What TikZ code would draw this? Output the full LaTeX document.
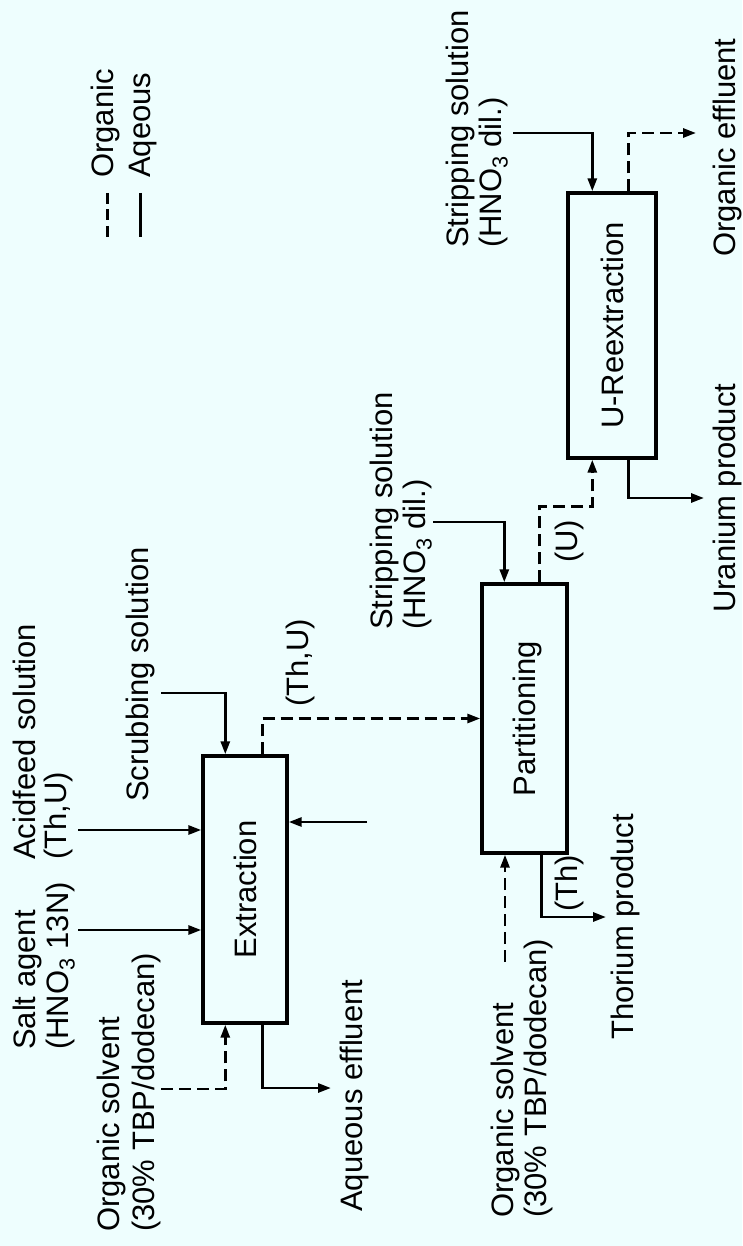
\documentclass[tikz,border=0pt]{standalone}
\usepackage{fontspec}
\setmainfont{Liberation Sans}
\usepackage{graphicx}
\usetikzlibrary{arrows.meta,calc}
\definecolor{bgc}{RGB}{238,254,254}
\newcommand{\rtxt}[1]{\rotatebox{90}{\raisebox{0pt}[\height][0pt]{#1}}}
\begin{document}
\begin{tikzpicture}[x=1pt,y=-1pt,
  lbl/.style={rotate=90,anchor=base west,inner sep=0pt,font=\fontsize{31pt}{33pt}\selectfont},
  unit/.style={draw,line width=3.4pt,inner sep=0pt,font=\fontsize{31pt}{33pt}\selectfont},
  aq/.style={line width=2.8pt,-{Triangle[length=13pt,width=9pt]}},
  org/.style={aq,dash pattern=on 12pt off 6pt},
  legline/.style={line width=3pt}]
\fill[bgc] (0,0) rectangle (742,1246);
\useasboundingbox (0,0) rectangle (742,1246);

% process units
\node[unit,minimum width=84pt,minimum height=267pt] (ext) at (245,889.5) {\rtxt{Extraction}};
\node[unit,minimum width=85pt,minimum height=269pt] (part) at (524.5,718.5) {\rtxt{Partitioning}};
\node[unit,minimum width=88pt,minimum height=265pt] (ure) at (612,325.5) {\rtxt{U-Reextraction}};

% labels
\node[lbl] (salt1) at (35,1050) {Salt agent};
\node[lbl] (salt2) at (68,1050) {(HNO\textsubscript{3} 13N)};
\node[lbl] (acid1) at (35,860) {Acidfeed solution};
\node[lbl] (acid2) at (66,860) {(Th,U)};
\node[lbl] (os11) at (119,1232) {Organic solvent};
\node[lbl] (os12) at (154,1232) {(30\% TBP/dodecan)};
\node[lbl] (scrub) at (148,802) {Scrubbing solution};
\node[lbl] (aqeff) at (362,1212) {Aqueous effluent};
\node[lbl] (thu) at (308,707) {(Th,U)};
\node[lbl] (st21) at (392,630) {Stripping solution};
\node[lbl] (st22) at (425,630) {(HNO\textsubscript{3} dil.)};
\node[lbl] (os21) at (513,1218) {Organic solvent};
\node[lbl] (os22) at (546,1218) {(30\% TBP/dodecan)};
\node[lbl] (uu) at (577,563) {(U)};
\node[lbl] (th) at (577,912) {(Th)};
\node[lbl] (thp) at (633,1040) {Thorium product};
\node[lbl] (st11) at (468,248) {Stripping solution};
\node[lbl] (st12) at (501,248) {(HNO\textsubscript{3} dil.)};
\node[lbl] (uprod) at (735,613) {Uranium product};
\node[lbl] (oeff) at (735,257) {Organic effluent};
\node[lbl] (lgo) at (113,178) {Organic};
\node[lbl] (lga) at (150,178) {Aqeous};

% legend lines
\coordinate (lo1) at (107,193);
\coordinate (lo2) at (107,237);
\coordinate (la1) at (140,193);
\coordinate (la2) at (140,237);
\draw[legline,dash pattern=on 11pt off 5.5pt] (lo1) -- (lo2);
\draw[legline] (la1) -- (la2);

% extraction connectors
\coordinate (saltS) at (78,930);
\draw[aq] (saltS) -- (saltS -| ext.west);
\coordinate (acidS) at (78,830);
\draw[aq] (acidS) -- (acidS -| ext.west);
\coordinate (rfree) at (367,822);
\draw[aq] (rfree) -- (rfree -| ext.east);
\coordinate (scS) at (161,693);
\draw[aq] (scS) -| ($(ext.north west)+(24,0)$);
\coordinate (os1S) at (161,1089);
\draw[org] (os1S) -| ($(ext.south west)+(24,0)$);
\draw[org] ($(ext.north west)+(61,0)$) |- (part.west);
\coordinate (aqE) at (331,1088);
\draw[aq] ($(ext.south west)+(61,0)$) |- (aqE);

% partitioning connectors
\coordinate (st2S) at (433,522);
\draw[aq] (st2S) -| ($(part.north west)+(24,0)$);
\draw[org] ($(part.north west)+(59,0)$) -- ++(0,-76) -| ($(ure.south west)+(26,0)$);
\coordinate (os2S) at (505,962);
\draw[org] (os2S) -- (os2S |- part.south);
\coordinate (thE) at (606,917);
\draw[aq] ($(part.south west)+(61,0)$) |- (thE);

% U-reextraction connectors
\coordinate (st1S) at (513,133);
\draw[aq] (st1S) -| ($(ure.north west)+(26,0)$);
\coordinate (oeE) at (696,133);
\draw[org] ($(ure.north west)+(62,0)$) |- (oeE);
\coordinate (upE) at (704,498);
\draw[aq] ($(ure.south west)+(62,0)$) |- (upE);
\end{tikzpicture}
\end{document}
